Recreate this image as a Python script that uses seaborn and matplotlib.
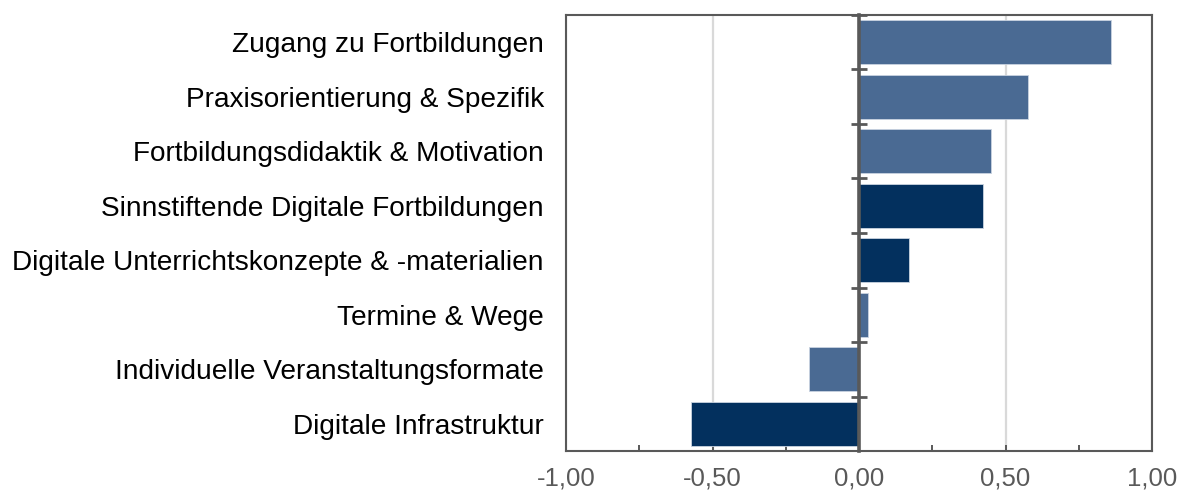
import numpy as np
import pandas as pd
import matplotlib
matplotlib.use("Agg")
import matplotlib.pyplot as plt
from matplotlib.ticker import MultipleLocator, FuncFormatter
import seaborn as sns

# Mean scores per topic (negative = hindering, positive = supporting)
categories = [
    "Zugang zu Fortbildungen",
    "Praxisorientierung & Spezifik",
    "Fortbildungsdidaktik & Motivation",
    "Sinnstiftende Digitale Fortbildungen",
    "Digitale Unterrichtskonzepte & -materialien",
    "Termine & Wege",
    "Individuelle Veranstaltungsformate",
    "Digitale Infrastruktur",
]
values = [0.86, 0.575, 0.452, 0.422, 0.171, 0.029, -0.170, -0.575]
groups = ["allgemein", "allgemein", "allgemein", "digital",
          "digital", "allgemein", "allgemein", "digital"]
x_ticks = [-1.0, -0.5, 0.0, 0.5, 1.0]

palette = {"allgemein": "#4a6a93", "digital": "#03305e"}
axis_grey = "#595959"

df = pd.DataFrame({"Thema": categories, "Wert": values, "Gruppe": groups})

sns.set_theme(style="white")
plt.rcParams["font.family"] = ["Liberation Sans", "DejaVu Sans"]

fig = plt.figure(figsize=(11.8, 4.96), dpi=100)
ax = fig.add_axes([0.4797, 0.0907, 0.4966, 0.8791])

sns.barplot(data=df, x="Wert", y="Thema", hue="Gruppe", palette=palette,
            saturation=1, dodge=False, legend=False, width=0.8, orient="h",
            edgecolor="#c9d3e0", linewidth=0.6, ax=ax, zorder=2)

ax.set_xlim(-1, 1)
ax.set_ylim(len(categories) - 0.5, -0.5)
ax.set_xlabel("")
ax.set_ylabel("")

# x axis: labels every 0.5, tick marks every 0.25
ax.set_xticks(x_ticks)
ax.xaxis.set_minor_locator(MultipleLocator(0.25))
ax.xaxis.set_major_formatter(FuncFormatter(lambda v, _: f"{v:.2f}".replace(".", ",")))
ax.tick_params(axis="x", which="both", direction="in", length=4.5, width=1.4,
               color=axis_grey, labelsize=18.5, labelcolor=axis_grey, pad=11,
               bottom=True)
ax.grid(axis="x", which="major", color="#d9d9d9", linewidth=1.6, zorder=0)
ax.grid(axis="y", visible=False)

# category labels on the left frame
ax.tick_params(axis="y", which="both", length=0, labelsize=20.2,
               labelcolor="black", pad=16)

for side in ["left", "right", "bottom", "top"]:
    ax.spines[side].set_visible(True)
    ax.spines[side].set_color(axis_grey)
    ax.spines[side].set_linewidth(1.5)

# zero line with separators between categories
zero_axis = ax.secondary_yaxis(0.5)
zero_axis.set_zorder(4)
zero_axis.set_yticks(np.arange(-0.5, len(categories) - 1, 1.0))
zero_axis.yaxis.set_ticks_position("left")
zero_axis.tick_params(axis="y", direction="inout", length=12, width=2,
                      color=axis_grey, labelleft=False, labelright=False)
for side, sp in zero_axis.spines.items():
    sp.set_visible(side == "left")
zero_axis.spines["left"].set_color(axis_grey)
zero_axis.spines["left"].set_linewidth(2.6)

fig.savefig("out.png", dpi=100, facecolor="white")
